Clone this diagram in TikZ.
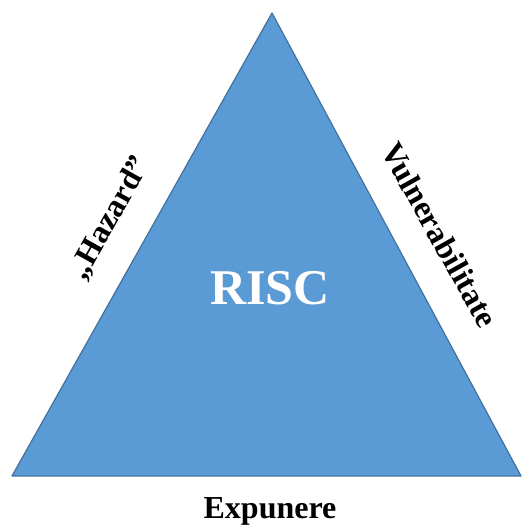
\documentclass[tikz,border=0pt]{standalone}
\usepackage{fontspec}
\setmainfont{Liberation Serif}
\definecolor{riscfill}{HTML}{5B9BD5}
\definecolor{riscline}{HTML}{41719C}
\tikzset{
	side/.style={font=\bfseries\fontsize{32}{32}\selectfont,inner sep=0pt}
}
\begin{document}
\begin{tikzpicture}[x=1pt,y=1pt]
	\useasboundingbox (0,0) rectangle (524,529);
	\coordinate (T) at (272,516);
	\coordinate (L) at (12,53);
	\coordinate (R) at (521,53);

	\draw [riscline,line width=1.2pt,fill=riscfill,line join=round] (L) -- (T) -- (R) -- cycle;

	\node [text=white,font=\bfseries\fontsize{50}{50}\selectfont,inner sep=0pt](risc) at (270,241) {RISC};
	\node [side,rotate=60.7](hazard) at (110,311) {„Hazard”};
	\node [side,rotate=-60.7](vuln) at (440,294) {Vulnerabilitate};
	\node [side,anchor=base](exp) at (270,10) {Expunere};
\end{tikzpicture}
\end{document}
